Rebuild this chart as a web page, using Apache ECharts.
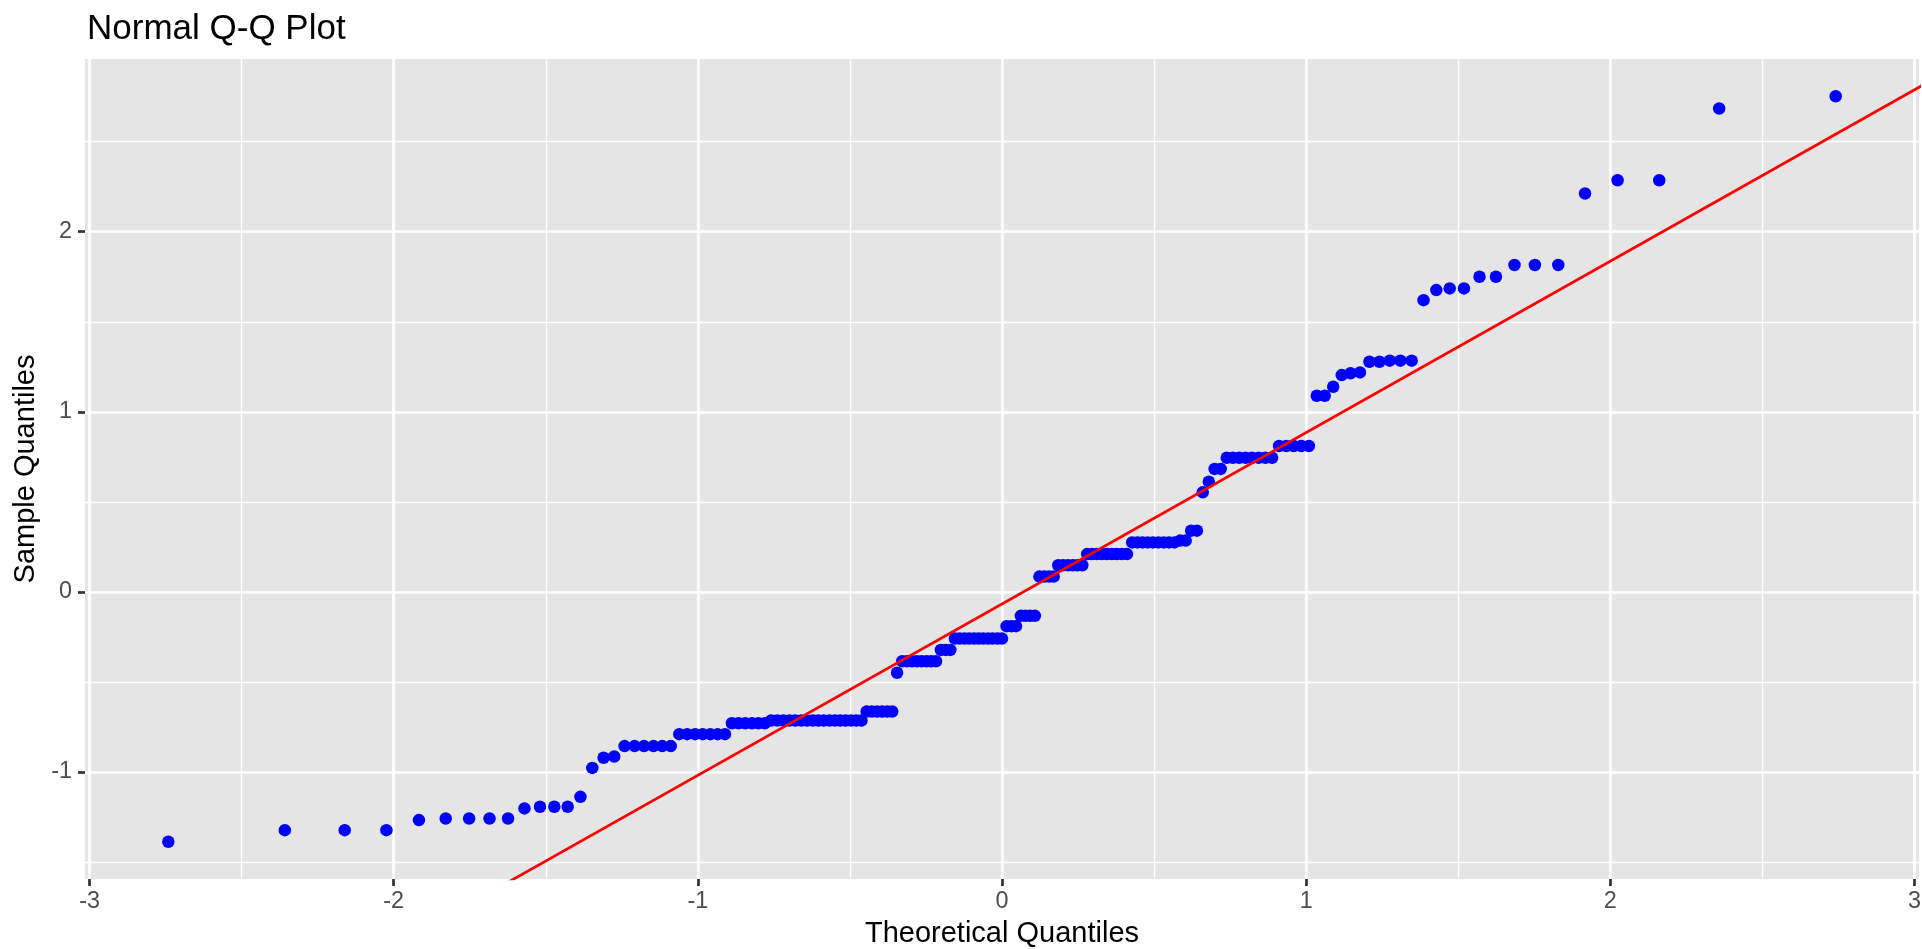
<!DOCTYPE html>
<html>
<head>
<meta charset="utf-8">
<script src="https://cdn.jsdelivr.net/npm/echarts@6/dist/echarts.min.js"></script>
<style>
html,body{margin:0;padding:0;background:#fff;}
#chart{width:1922px;height:949px;}
</style>
</head>
<body>
<div id="chart"></div>
<script>
// Theoretical quantiles (x), one per point
const theoreticalQuantiles = [
  -2.741,-2.358,-2.161,-2.024,-1.917,-1.829,-1.752,-1.685,-1.624,-1.570,
  -1.519,-1.472,-1.428,-1.386,-1.347,-1.310,-1.275,-1.241,-1.208,-1.177,
  -1.146,-1.117,-1.089,-1.061,-1.035,-1.009,-0.984,-0.959,-0.935,-0.911,
  -0.888,-0.866,-0.844,-0.822,-0.801,-0.780,-0.759,-0.739,-0.719,-0.699,
  -0.680,-0.660,-0.641,-0.622,-0.604,-0.586,-0.567,-0.549,-0.532,-0.514,
  -0.496,-0.479,-0.462,-0.445,-0.428,-0.411,-0.394,-0.377,-0.361,-0.345,
  -0.328,-0.312,-0.296,-0.280,-0.264,-0.248,-0.233,-0.217,-0.201,-0.185,
  -0.170,-0.155,-0.139,-0.123,-0.108,-0.092,-0.077,-0.062,-0.046,-0.031,
  -0.015,0,0.015,0.031,0.046,0.062,0.077,0.092,0.108,0.123,
  0.139,0.155,0.170,0.185,0.201,0.217,0.233,0.248,0.264,0.280,
  0.296,0.312,0.328,0.345,0.361,0.377,0.394,0.411,0.428,0.445,
  0.462,0.479,0.496,0.514,0.532,0.549,0.567,0.586,0.604,0.622,
  0.641,0.660,0.680,0.699,0.719,0.739,0.759,0.780,0.801,0.822,
  0.844,0.866,0.888,0.911,0.935,0.959,0.984,1.009,1.035,1.061,
  1.089,1.117,1.146,1.177,1.208,1.241,1.275,1.310,1.347,1.386,
  1.428,1.472,1.519,1.570,1.624,1.685,1.752,1.829,1.917,2.024,
  2.161,2.358,2.741
];
// Sample quantiles (y)
const sampleQuantiles = [
  -1.387,-1.323,-1.323,-1.323,-1.267,-1.258,-1.258,-1.258,-1.258,-1.202,
  -1.193,-1.193,-1.193,-1.138,-0.977,-0.921,-0.914,-0.856,-0.856,-0.856,
  -0.856,-0.856,-0.856,-0.790,-0.790,-0.790,-0.790,-0.790,-0.790,-0.790,
  -0.729,-0.729,-0.729,-0.729,-0.729,-0.729,-0.714,-0.714,-0.714,-0.714,
  -0.714,-0.714,-0.714,-0.714,-0.714,-0.714,-0.714,-0.714,-0.714,-0.714,
  -0.714,-0.714,-0.714,-0.664,-0.664,-0.664,-0.664,-0.664,-0.664,-0.449,
  -0.385,-0.385,-0.385,-0.385,-0.385,-0.385,-0.385,-0.385,-0.322,-0.322,
  -0.322,-0.259,-0.259,-0.259,-0.259,-0.259,-0.259,-0.259,-0.259,-0.259,
  -0.259,-0.259,-0.190,-0.190,-0.190,-0.133,-0.133,-0.133,-0.133,0.085,
  0.085,0.085,0.085,0.148,0.148,0.148,0.148,0.148,0.148,0.210,
  0.210,0.210,0.210,0.210,0.210,0.210,0.210,0.210,0.275,0.275,
  0.275,0.275,0.275,0.275,0.275,0.275,0.275,0.285,0.285,0.340,
  0.340,0.553,0.612,0.683,0.683,0.745,0.745,0.745,0.745,0.745,
  0.745,0.745,0.745,0.810,0.810,0.810,0.810,0.810,1.089,1.089,
  1.139,1.204,1.214,1.219,1.278,1.278,1.284,1.284,1.284,1.620,
  1.676,1.685,1.685,1.750,1.750,1.815,1.815,1.815,2.212,2.286,
  2.286,2.684,2.752
];
// Reference line endpoints (clipped by the panel)
const qqLineX = [-1.75, 3.1];
const qqLineY = [-1.732, 2.883];

// Axis breaks
const xMajorTicks = [-3, -2, -1, 0, 1, 2, 3];
const xMinorTicks = [-2.5, -1.5, -0.5, 0.5, 1.5, 2.5];
const yMajorTicks = [-1, 0, 1, 2];
const yMinorTicks = [-1.5, -0.5, 0.5, 1.5, 2.5];
const xRange = [-3.015, 3.015];
const yRange = [-1.594, 2.959];

const FONT = '"Liberation Sans", Arial, Helvetica, sans-serif';
const chart = echarts.init(document.getElementById('chart'), null, {renderer: 'canvas'});

const option = {
  animation: false,
  backgroundColor: '#ffffff',
  title: {
    text: 'Normal Q-Q Plot',
    left: 82,
    top: 7,
    textStyle: {fontFamily: FONT, fontSize: 35, fontWeight: 'normal', color: '#000000'}
  },
  grid: {
    left: 85, right: 3, top: 59, bottom: 70,
    containLabel: false,
    outerBoundsMode: 'none',
    show: true, backgroundColor: '#E5E5E5', borderWidth: 0
  },
  xAxis: [
    {
      type: 'value', min: xRange[0], max: xRange[1], position: 'bottom',
      name: 'Theoretical Quantiles', nameLocation: 'middle', nameGap: 40,
      nameTextStyle: {fontFamily: FONT, fontSize: 29, color: '#000000'},
      axisLine: {show: false, onZero: false},
      axisTick: {show: true, length: 7, customValues: xMajorTicks, lineStyle: {color: '#333333', width: 2.7}},
      axisLabel: {show: true, customValues: xMajorTicks, margin: 11, fontFamily: FONT, fontSize: 23.4, color: '#4D4D4D'},
      splitLine: {show: true, lineStyle: {color: '#ffffff', width: 2.7}},
      minorTick: {show: false}, minorSplitLine: {show: false}
    },
    {
      type: 'value', min: xRange[0], max: xRange[1], position: 'bottom',
      axisLine: {show: false, onZero: false},
      axisTick: {show: false, customValues: xMinorTicks},
      axisLabel: {show: false, customValues: xMinorTicks},
      splitLine: {show: true, lineStyle: {color: '#ffffff', width: 1.4}}
    }
  ],
  yAxis: [
    {
      type: 'value', min: yRange[0], max: yRange[1], position: 'left',
      name: 'Sample Quantiles', nameLocation: 'middle', nameGap: 42,
      nameTextStyle: {fontFamily: FONT, fontSize: 29, color: '#000000'},
      axisLine: {show: false, onZero: false},
      axisTick: {show: true, length: 7, customValues: yMajorTicks, lineStyle: {color: '#333333', width: 2.7}},
      axisLabel: {show: true, customValues: yMajorTicks, margin: 13, fontFamily: FONT, fontSize: 23.4, color: '#4D4D4D'},
      splitLine: {show: true, lineStyle: {color: '#ffffff', width: 2.7}}
    },
    {
      type: 'value', min: yRange[0], max: yRange[1], position: 'left',
      axisLine: {show: false, onZero: false},
      axisTick: {show: false, customValues: yMinorTicks},
      axisLabel: {show: false, customValues: yMinorTicks},
      splitLine: {show: true, lineStyle: {color: '#ffffff', width: 1.4}}
    }
  ],
  series: [
    {
      type: 'scatter',
      xAxisIndex: 0, yAxisIndex: 0,
      data: theoreticalQuantiles.map((x, i) => [x, sampleQuantiles[i]]),
      symbol: 'circle',
      symbolSize: 12.5,
      itemStyle: {color: '#0000FF', opacity: 1},
      z: 2,
      silent: true
    },
    {
      type: 'line',
      xAxisIndex: 0, yAxisIndex: 0,
      data: qqLineX.map((x, i) => [x, qqLineY[i]]),
      symbol: 'none',
      showSymbol: false,
      clip: true,
      lineStyle: {color: '#FF0000', width: 2.7},
      z: 3,
      silent: true
    }
  ]
};
chart.setOption(option);
</script>
</body>
</html>
